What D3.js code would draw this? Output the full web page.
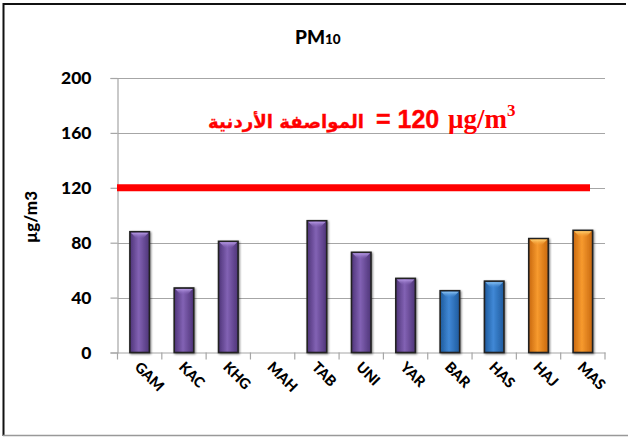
<!DOCTYPE html>
<html><head><meta charset="utf-8">
<script src="https://cdn.jsdelivr.net/npm/d3@7"></script>
<style>body{margin:0;background:#fff}svg{display:block}</style>
</head><body>
<svg id="c" width="628" height="438"></svg>
<script>
const categories = ["GAM","KAC","KHG","MAH","TAB","UNI","YAR","BAR","HAS","HAJ","MAS"];
const values = [88, 47, 81, 0, 96, 73, 54, 45, 52, 83, 89];
const groups = ["p","p","p","p","p","p","p","b","b","o","o"];
const yTicks = [0, 40, 80, 120, 160, 200];
const standardValue = 120;
const titleMain = "PM", titleSub = "10";
const yLabel = "µg/m3";
const stdArabic = "المواصفة الأردنية";

const svg = d3.select("#c");
const font = "Lato, 'Liberation Sans', sans-serif";

// frame
svg.append("line").attr("x1",3).attr("x2",626).attr("y1",4).attr("y2",4).attr("stroke","#111").attr("stroke-width",2);
svg.append("line").attr("x1",3.5).attr("x2",3.5).attr("y1",3).attr("y2",436).attr("stroke","#111").attr("stroke-width",2);
svg.append("line").attr("x1",3).attr("x2",628).attr("y1",435.5).attr("y2",435.5).attr("stroke","#999").attr("stroke-width",1.5);

const x = d3.scaleBand().domain(categories).range([117.5, 605]).paddingInner(0.56).paddingOuter(0.28);
const y = d3.scaleLinear().domain([0, 200]).range([352.5, 78]);

// gradients
const defs = svg.append("defs");
const pal = {p:["#4e3478","#8262b4","#b79ae6"], b:["#1f5a9c","#4088d6","#8cc4f4"], o:["#c8680e","#f79a2e","#ffd070"]};
Object.entries(pal).forEach(([k,c])=>{
  const g = defs.append("linearGradient").attr("id","g"+k).attr("x1","0").attr("x2","1").attr("y1","0").attr("y2","0");
  g.append("stop").attr("offset","0").attr("stop-color",c[0]);
  g.append("stop").attr("offset","0.45").attr("stop-color",c[1]);
  g.append("stop").attr("offset","1").attr("stop-color",c[0]);
  const h = defs.append("linearGradient").attr("id","h"+k).attr("x1","0").attr("x2","0").attr("y1","0").attr("y2","1");
  h.append("stop").attr("offset","0").attr("stop-color",c[2]).attr("stop-opacity",1);
  h.append("stop").attr("offset","1").attr("stop-color",c[1]).attr("stop-opacity",0);
});
const f = defs.append("filter").attr("id","sh").attr("x","-30%").attr("y","-10%").attr("width","160%").attr("height","130%");
f.append("feGaussianBlur").attr("in","SourceAlpha").attr("stdDeviation",1.2).attr("result","b");
f.append("feOffset").attr("in","b").attr("dx",0.5).attr("dy",0.5).attr("result","o");
f.append("feComponentTransfer").attr("in","o").attr("result","o2").append("feFuncA").attr("type","linear").attr("slope",0.5);
const m = f.append("feMerge"); m.append("feMergeNode").attr("in","o2"); m.append("feMergeNode").attr("in","SourceGraphic");

// grid
svg.append("g").selectAll("line").data(yTicks.filter(d=>d>0)).join("line")
  .attr("x1",117.5).attr("x2",605).attr("y1",d=>Math.round(y(d))+0.5).attr("y2",d=>Math.round(y(d))+0.5)
  .attr("stroke","#a6a6a6").attr("stroke-width",1.2);

// y axis
const ya = svg.append("g").attr("transform","translate(117.5,0)")
  .call(d3.axisLeft(y).tickValues(yTicks).tickSize(7).tickPadding(19));
ya.select(".domain").attr("stroke","#a6a6a6").attr("stroke-width",1.2);
ya.selectAll(".tick line").attr("stroke","#a6a6a6").attr("stroke-width",1.2);
ya.selectAll("text").attr("font-family",font).attr("font-weight","900").attr("font-size",17.5).attr("fill","#000");

// x axis
const xa = svg.append("g").attr("transform",`translate(0,${y(0)})`)
  .call(d3.axisBottom(x).tickSize(0).tickFormat(""));
xa.select(".domain").attr("stroke","#a6a6a6").attr("stroke-width",1.2);
const step = x.step();
const bounds = d3.range(categories.length+1).map(i=>117.5 + i*step);
svg.append("g").selectAll("line").data(bounds).join("line")
  .attr("x1",d=>d).attr("x2",d=>d).attr("y1",y(0)).attr("y2",y(0)+7)
  .attr("stroke","#a6a6a6").attr("stroke-width",1.2);

// bars
const bw = x.bandwidth();
const bars = svg.append("g").selectAll("g").data(categories.map((c,i)=>({c,v:values[i],g:groups[i]})).filter(d=>d.v>0)).join("g")
  .attr("filter","url(#sh)");
bars.append("rect").attr("x",d=>x(d.c)).attr("y",d=>y(d.v)).attr("width",bw).attr("height",d=>y(0)-y(d.v))
  .attr("fill",d=>"url(#g"+d.g+")").attr("stroke","#222").attr("stroke-width",1.6);
bars.append("path").attr("d",d=>{const x0=x(d.c)+1, x1=x(d.c)+bw-1, t=y(d.v)+1; return `M${x0},${t}L${x1},${t}L${(x0+x1)/2+3},${t+6}L${(x0+x1)/2-3},${t+6}Z`;})
  .attr("fill",d=>"url(#h"+d.g+")");

// standard line
svg.append("line").attr("x1",117).attr("x2",590).attr("y1",y(standardValue)).attr("y2",y(standardValue))
  .attr("stroke","#ff0000").attr("stroke-width",7);

// x labels
svg.append("g").selectAll("text").data(categories).join("text")
  .attr("transform",d=>`translate(${x(d)+bw/2-6},${368}) rotate(45)`)
  .attr("font-family",font).attr("font-weight","900").attr("font-size",14.5).attr("fill","#000")
  .text(d=>d);

// title
const t = svg.append("text").attr("x",295).attr("y",44).attr("font-family",font).attr("font-weight","900").attr("fill","#000");
t.append("tspan").attr("font-size",19).text(titleMain);
t.append("tspan").attr("font-size",13.5).text(titleSub);

// y label
svg.append("text").attr("transform","translate(37,217) rotate(-90)").attr("text-anchor","middle")
  .attr("font-family",font).attr("font-weight","900").attr("font-size",17).attr("fill","#000").text(yLabel);

// standard annotation
const red = "#ff0000";
const ar = svg.append("text").attr("x",364).attr("y",128).attr("text-anchor","end")
  .attr("font-family","'DejaVu Sans', sans-serif").attr("font-weight","bold").attr("font-size",21).attr("fill",red)
  .attr("stroke",red).attr("stroke-width",0.3).text(stdArabic);
const nat = ar.node().getComputedTextLength();
if (nat > 0) ar.attr("font-size", Math.min(23, 21 * 156 / nat));
svg.append("text").attr("x",376).attr("y",128).attr("font-family","'Liberation Sans', sans-serif").attr("font-weight","bold")
  .attr("font-size",25).attr("fill",red).attr("stroke",red).attr("stroke-width",0.4).text("= " + standardValue);
const u = svg.append("text").attr("x",448).attr("y",128).attr("font-family","'Liberation Serif', serif").attr("font-weight","bold")
  .attr("font-size",27).attr("fill",red);
u.append("tspan").text("µg/m");
u.append("tspan").attr("font-size",17).attr("dy",-12).text("3");
</script>
</body></html>
